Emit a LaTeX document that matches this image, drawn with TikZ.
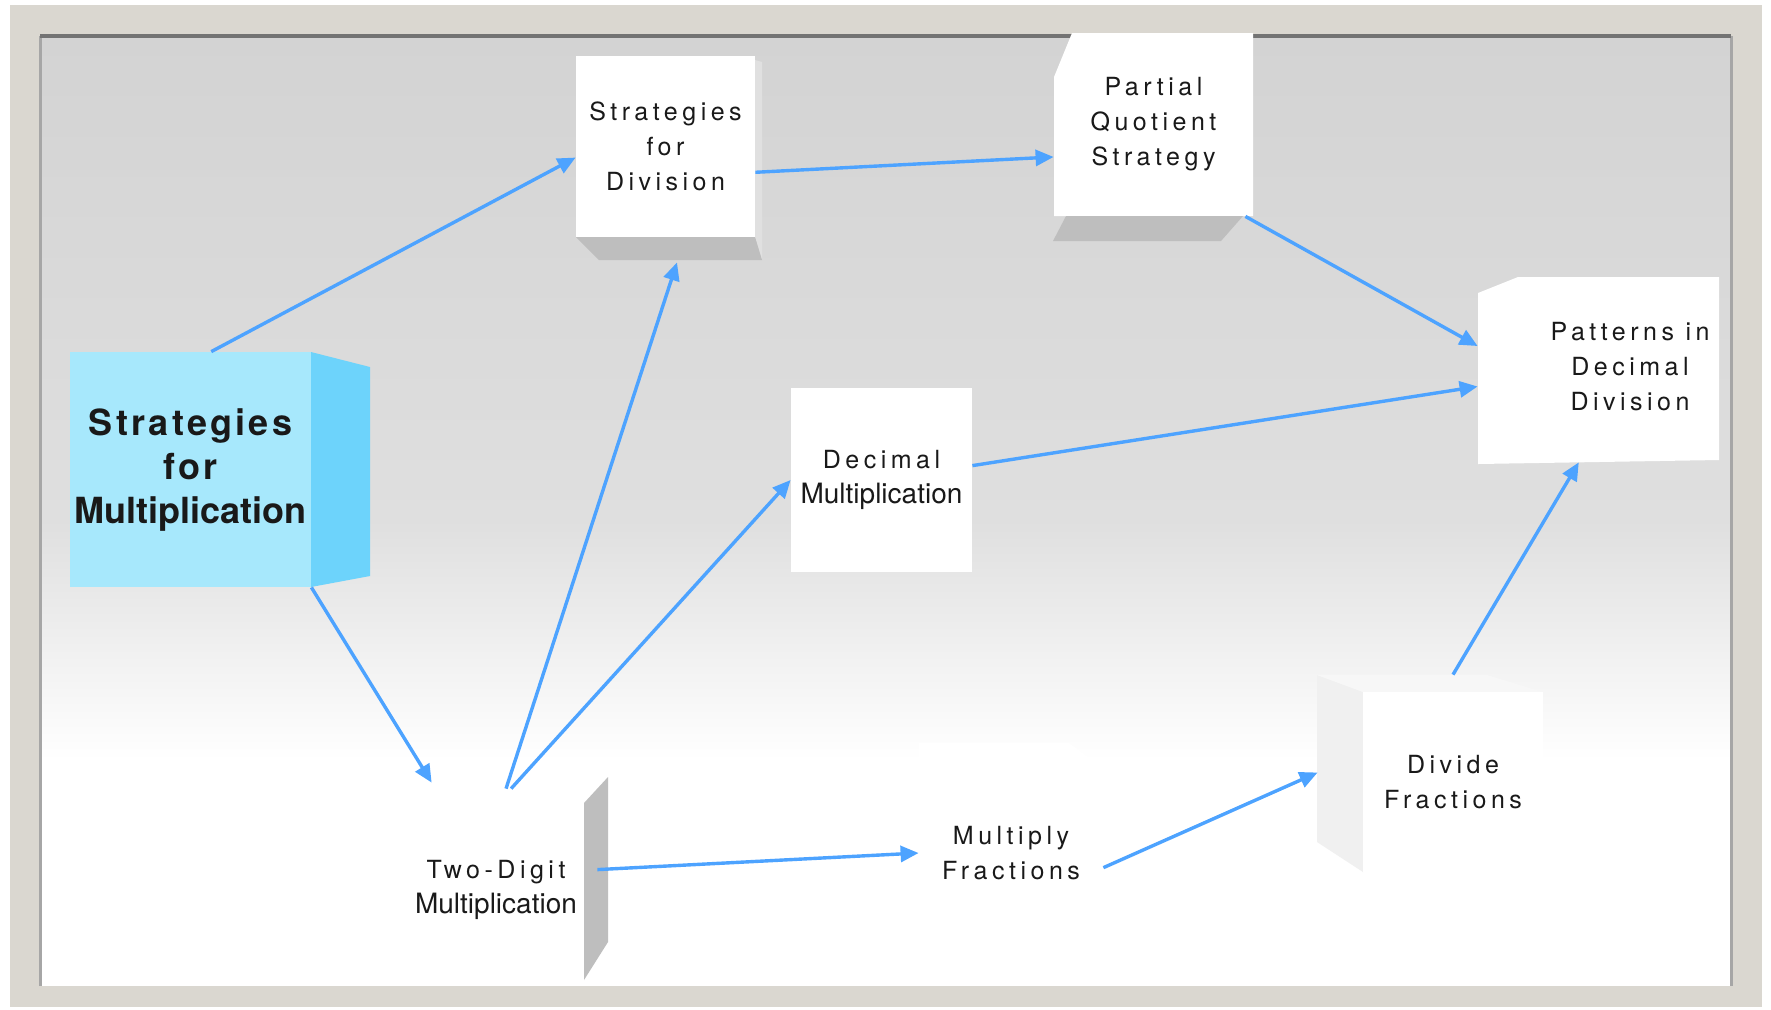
\documentclass[tikz,border=0pt]{standalone}
\usepackage{fontspec}
\setmainfont{TeX Gyre Heros}
\newfontfamily\spaced[LetterSpace=18]{TeX Gyre Heros}
\newfontfamily\bigspaced[LetterSpace=9]{TeX Gyre Heros}
\usetikzlibrary{arrows.meta}
\definecolor{arrowblue}{RGB}{77,163,255}
\definecolor{framebeige}{RGB}{218,215,208}
\definecolor{panelgray}{RGB}{211,211,211}
\definecolor{panelmid}{RGB}{223,223,223}
\definecolor{skyfront}{RGB}{167,232,252}
\definecolor{skyside}{RGB}{109,211,251}
\definecolor{shadegray}{RGB}{190,190,190}
\definecolor{inkgray}{RGB}{25,25,25}
\tikzset{
  link/.style={-{Triangle[length=9pt,width=8pt]}, draw=arrowblue, line width=1.7pt},
  box/.style={inner sep=0pt, align=center, text=inkgray, font=\spaced\fontsize{12.5}{17.5}\selectfont},
}
\newcommand{\multword}{{\normalfont\fontsize{14}{17.5}\selectfont Multiplication}}
\begin{document}
\begin{tikzpicture}[x=0.5pt,y=-0.5pt]
    \useasboundingbox (0,0) rectangle (1771,1009);
    \fill[white] (0,0) rectangle (1771,1009);
    \fill[framebeige] (10,5) rectangle (1762,1007);
    \shade[top color=panelgray, bottom color=panelmid] (40,35) rectangle (1731,520);
    \shade[top color=panelmid, bottom color=white] (40,520) rectangle (1731,760);
    \fill[white] (40,760) rectangle (1731,986);
    \draw[black!35, line width=1.5pt] (40,986) -- (40,36) (1731,36) -- (1731,986);
    \draw[black!55, line width=2pt] (40,36) -- (1731,36);

    \fill[skyside] (311,352) -- (370,367) -- (370,576) -- (311,587) -- cycle;
    \node[box, fill=skyfront, minimum width=120.5pt, minimum height=117.5pt,
        font=\bigspaced\bfseries\fontsize{18}{22}\selectfont, text=black!90]
        (sfm) at (190.5,469.5) {Strategies\\for\\{\normalfont\bfseries\fontsize{18}{22}\selectfont Multiplication}};

    \fill[black!12] (755,60) -- (762,62) -- (762,260) -- (755,237) -- cycle;
    \fill[shadegray] (576,237) -- (755,237) -- (762,260) -- (599,260) -- cycle;
    \node[box, fill=white, minimum width=89.5pt, minimum height=90.5pt] (sfd) at (665.5,146.5) {Strategies\\for\\Division};

    \fill[white] (1072,33) -- (1253,33) -- (1253,216) -- (1054,216) -- (1054,77) -- cycle;
    \fill[shadegray] (1066,216) -- (1243,216) -- (1221,241) -- (1053,241) -- cycle;
    \node[box, minimum width=99.5pt, minimum height=91.5pt] (pqs) at (1153.5,124.5) {Partial\\Quotient\\Strategy};

    \fill[white] (1518,277) -- (1719,277) -- (1719,460) -- (1478,464) -- (1478,293) -- cycle;
    \node[box, minimum width=120.5pt, minimum height=92.5pt] (pdd) at (1598.5,369.5) {};
    \node[box] (pddtext) at (1630,367) {Patterns in\\Decimal\\Division};

    \node[box, fill=white, minimum width=90.5pt, minimum height=92pt] (decm) at (881.5,480) {Decimal\\\multword};

    \fill[shadegray] (584,803) -- (608,777) -- (608,942) -- (584,980) -- cycle;
    \node[box, fill=white, minimum width=88pt, minimum height=95pt] (tdm) at (496,890) {Two-Digit\\\multword};

    \fill[white] (919,743) -- (1069,743) -- (1103,768) -- (1103,943) -- (919,943) -- cycle;
    \node[box, minimum width=92pt, minimum height=90pt] (mf) at (1011,853) {Multiply\\Fractions};

    \fill[black!6] (1317,675) -- (1363,692) -- (1363,872) -- (1317,842) -- cycle;
    \fill[black!3] (1317,675) -- (1487,675) -- (1543,692) -- (1363,692) -- cycle;
    \node[box, fill=white, minimum width=90pt, minimum height=90pt] (df) at (1453,782) {Divide\\Fractions};

    \draw[link] (sfm.80) -- (sfd.187);
    \draw[link] (sfm.south east) -- ([yshift=6pt]tdm.124);
    \draw[link] ([yshift=3pt]tdm.84) -- ([xshift=5.75pt,yshift=-12.5pt]sfd.south);
    \draw[link] ([yshift=3pt]tdm.81) -- (decm.west);
    \draw[link] ([xshift=6.5pt]tdm.13) -- (mf.west);
    \draw[link] (mf.-9) -- ([xshift=-22.5pt]df.174);
    \draw[link] (sfd.-16) -- (pqs.198);
    \draw[link] (pqs.-45) -- (pdd.169);
    \draw[link] (decm.9) -- (pdd.188);
    \draw[link] ([yshift=8.5pt]df.north) -- (pdd.-102);
\end{tikzpicture}
\end{document}
